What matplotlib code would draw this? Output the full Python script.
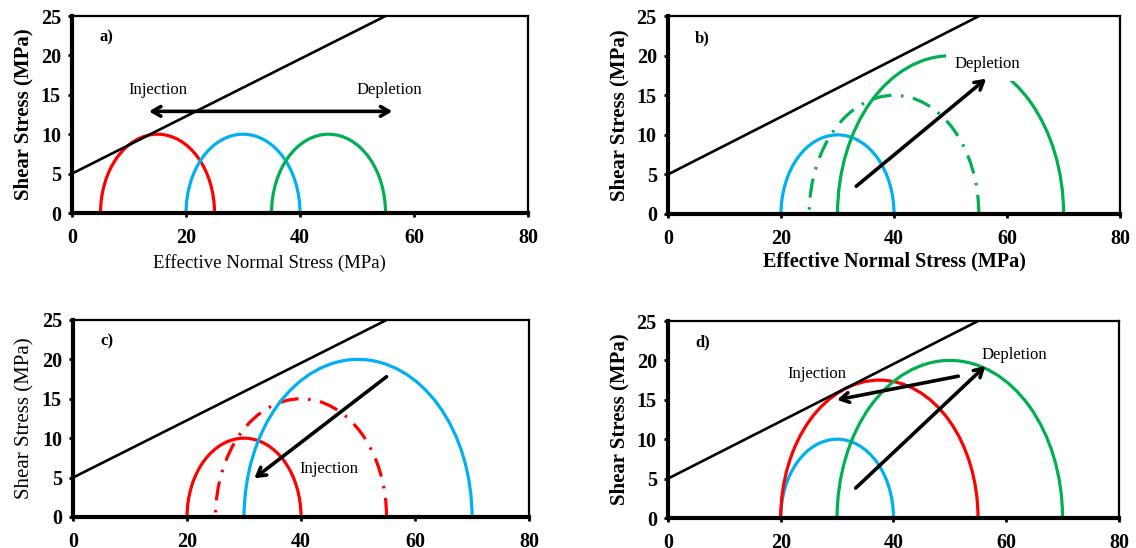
import matplotlib
matplotlib.use('Agg')
import matplotlib.pyplot as plt
from matplotlib.patches import Arc

plt.rcParams['font.family'] = ['Liberation Serif', 'DejaVu Serif']

# Failure envelope (two end points)
fail_x = [0, 55]
fail_y = [5, 25]

# Mohr circles: (sigma3, sigma1, colour, style) per panel
RED = '#FF0000'
BLUE = '#00B0F0'
GREEN = '#00B050'
DASHDOT = (0, (6, 3, 0.8, 3))
circles_a = [(5, 25, RED, '-'), (20, 40, BLUE, '-'), (35, 55, GREEN, '-')]
circles_b = [(20, 40, BLUE, '-'), (25, 55, GREEN, DASHDOT), (30, 70, GREEN, '-')]
circles_c = [(20, 40, RED, '-'), (25, 55, RED, DASHDOT), (30, 70, BLUE, '-')]
circles_d = [(20, 40, BLUE, '-'), (20, 55, RED, '-'), (30, 70, GREEN, '-')]

x_ticks = [0, 20, 40, 60, 80]
y_ticks = [0, 5, 10, 15, 20, 25]

fig = plt.figure(figsize=(11.36, 5.48), dpi=100)
pos = {
    'a': [0.0634, 0.6113, 0.4014, 0.3595],
    'b': [0.5880, 0.6095, 0.3980, 0.3610],
    'c': [0.0643, 0.0566, 0.4014, 0.3595],
    'd': [0.5880, 0.0547, 0.3970, 0.3595],
}


def setup(ax, letter, circles, ybold=True):
    ax.set_xlim(0, 80)
    ax.set_ylim(0, 25)
    ax.set_xticks(x_ticks)
    ax.set_yticks(y_ticks)
    for side in ['left', 'bottom']:
        ax.spines[side].set_linewidth(3)
    for side in ['top', 'right']:
        ax.spines[side].set_linewidth(1.6)
    ax.tick_params(direction='out', length=3, width=2, labelsize=14.5)
    ax.tick_params(axis='x', pad=8)
    ax.tick_params(axis='y', pad=5)
    for lab in ax.get_xticklabels() + ax.get_yticklabels():
        lab.set_fontweight('bold')
    ax.set_ylabel('Shear Stress (MPa)', fontsize=15,
                  fontweight='bold' if ybold else 'normal', labelpad=5)
    ax.plot(fail_x, fail_y, color='black', lw=1.9, zorder=3)
    for s3, s1, col, ls in circles:
        c = (s1 + s3) / 2
        r = (s1 - s3) / 2
        ax.add_patch(Arc((c, 0), 2 * r, 2 * r, theta1=0, theta2=180,
                         color=col, lw=2.3, ls=ls, zorder=2))
    ax.text(0.06, 0.89, letter + ')', transform=ax.transAxes, fontsize=12,
            fontweight='bold', va='center')


def arrow(ax, start, end, style='->'):
    ax.annotate('', xy=end, xytext=start,
                arrowprops=dict(arrowstyle=style + ',head_length=0.6,head_width=0.35',
                                color='black', lw=2.6, shrinkA=0, shrinkB=0),
                zorder=5)


ax = fig.add_axes(pos['a'])
setup(ax, 'a', circles_a)
ax.set_xlabel('Effective Normal Stress (MPa)', fontsize=13.5, labelpad=3)
ax.xaxis.set_label_coords(0.432, -0.21)
arrow(ax, (13.5, 12.9), (56.2, 12.9), style='<->')
ax.text(15.0, 15.6, 'Injection', fontsize=12, ha='center', va='center')
ax.text(55.6, 15.6, 'Depletion', fontsize=12, ha='center', va='center')

ax = fig.add_axes(pos['b'])
setup(ax, 'b', circles_b)
ax.set_xlabel('Effective Normal Stress (MPa)', fontsize=14.5,
              fontweight='bold', labelpad=3)
ax.xaxis.set_label_coords(0.5, -0.19)
arrow(ax, (33.3, 3.5), (56.3, 17.1))
ax.text(56.5, 18.9, 'Depletion', fontsize=12, ha='center', va='center',
        bbox=dict(facecolor='white', edgecolor='none', pad=6), zorder=4)

ax = fig.add_axes(pos['c'])
setup(ax, 'c', circles_c, ybold=False)
arrow(ax, (55.0, 17.8), (31.8, 4.9))
ax.text(44.9, 6.1, 'Injection', fontsize=12, ha='center', va='center')

ax = fig.add_axes(pos['d'])
setup(ax, 'd', circles_d)
arrow(ax, (51.5, 18.0), (30.0, 15.0))
arrow(ax, (33.3, 3.8), (56.3, 19.3))
ax.text(26.5, 18.3, 'Injection', fontsize=12, ha='center', va='center')
ax.text(61.5, 20.7, 'Depletion', fontsize=12, ha='center', va='center')

fig.savefig('out.png', dpi=100)
